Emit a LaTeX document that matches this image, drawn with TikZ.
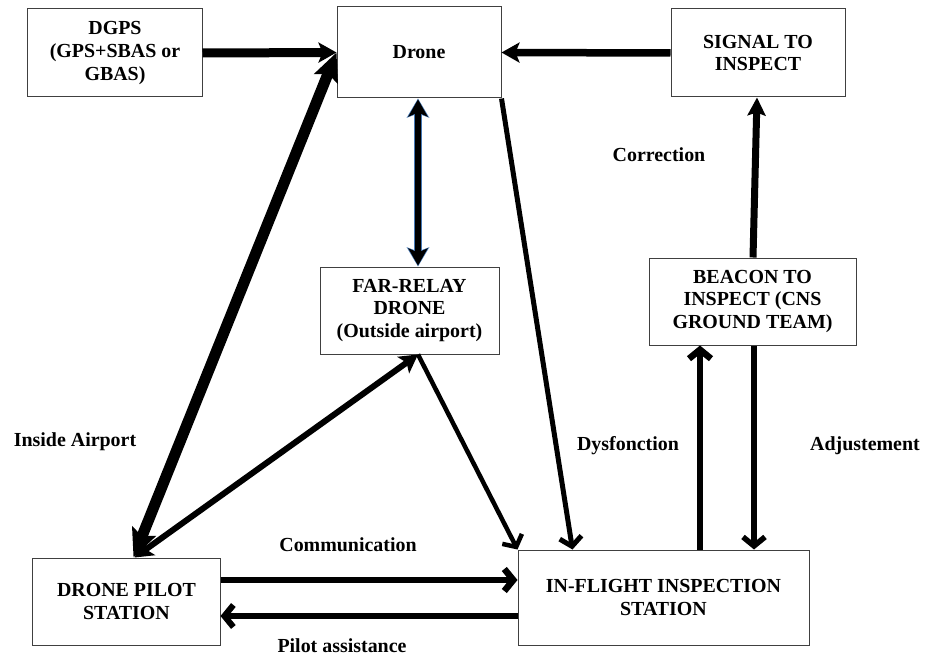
\documentclass[tikz,border=0pt]{standalone}
\usepackage{fontspec}
\setmainfont{Liberation Serif}
\usetikzlibrary{arrows.meta,calc}
\begin{document}
\begin{tikzpicture}[x=1bp,y=-1bp,
  box/.style={draw=black!75,line width=1bp,rectangle,align=center,inner sep=0pt,
    font=\fontsize{20pt}{23pt}\selectfont\bfseries},
  lbl/.style={font=\fontsize{20pt}{23pt}\selectfont\bfseries,inner sep=0pt},
  stl/.style={-{Stealth[length=18bp,width=20bp,inset=4bp]}},
  bigstl/.style={{Stealth[length=28bp,width=25bp,inset=5bp]}-{Stealth[length=28bp,width=25bp,inset=5bp]}},
  chev/.style={-{Straight Barb[length=9bp,width=22bp]}},
  chevr/.style={{Straight Barb[length=9bp,width=22bp]}-},
  dblstl/.style={{Stealth[length=18bp,width=20bp,inset=4bp]}-{Stealth[length=18bp,width=20bp,inset=4bp]}}
]
\useasboundingbox (0,0) rectangle (928,658);
\fill[white] (0,0) rectangle (928,658);

\node[box,minimum width=174bp,minimum height=88bp] (dgps) at (115,53) {DGPS\\(GPS+SBAS or\\GBAS)};
\node[box,minimum width=164bp,minimum height=91bp] (drone) at (419,52.5) {Drone};
\node[box,minimum width=174bp,minimum height=88bp] (signal) at (758,53) {SIGNAL TO\\INSPECT};
\node[box,minimum width=179bp,minimum height=87bp] (relay) at (409.5,310.5) {FAR-RELAY\\DRONE\\(Outside airport)};
\node[box,minimum width=207bp,minimum height=87bp] (beacon) at (752.5,301.5) {BEACON TO\\INSPECT (CNS\\GROUND TEAM)};
\node[box,minimum width=187bp,minimum height=87bp] (pilot) at (126.5,601.5) {DRONE PILOT\\STATION};
\node[box,minimum width=291bp,minimum height=95bp] (inflight) at (663.5,597.5) {IN-FLIGHT INSPECTION\\STATION};

% DGPS -> Drone
\draw[stl,line width=9bp] (dgps.east) -- (drone.west);
% Signal -> Drone
\draw[stl,line width=7.5bp] (signal.west) -- (drone.east);
% Drone <-> Far relay (with bluish edge)
\draw[{Stealth[length=19bp,width=22bp,inset=4bp]}-{Stealth[length=19bp,width=22bp,inset=4bp]},
      line width=8bp,color={rgb,255:red,70;green,120;blue,180}]
  (drone.south -| 418,0) -- (relay.north -| 418,0);
\draw[{Stealth[length=17bp,width=19bp,inset=4bp]}-{Stealth[length=17bp,width=19bp,inset=4bp]},
      line width=6bp] ($(drone.south -| 418,0)+(0,1)$) -- ($(relay.north -| 418,0)+(0,-1)$);
% Pilot <-> Drone
\draw[bigstl,line width=11bp] ([xshift=7bp]pilot.north) -- (drone.west);
% Pilot <-> Far relay
\draw[dblstl,line width=6bp] ([xshift=8bp]pilot.north) -- ([xshift=8.5bp]relay.south);
% Far relay -> In-flight
\draw[chev,line width=4.5bp] ([xshift=8.5bp]relay.south) -- (inflight.north west);
% Drone -> In-flight
\draw[chev,line width=5bp] (drone.south east) -- ([xshift=55bp]inflight.north west);
% In-flight -> Beacon
\draw[chev,line width=6.5bp] (inflight.north -| 700,0) -- (beacon.south -| 700,0);
% Beacon -> In-flight
\draw[chev,line width=5.5bp] (beacon.south -| 754,0) -- (inflight.north -| 754,0);
% Beacon -> Signal
\draw[-{Stealth[length=18bp,width=18bp,inset=3bp]},line width=7bp] (beacon.north -| 753,0) -- (signal.south -| 757,0);
% Communication
\draw[chev,line width=6.5bp] (pilot.east |- 0,580) -- (inflight.west |- 0,580);
% Pilot assistance
\draw[chev,line width=6bp] (inflight.west |- 0,616) -- (pilot.east |- 0,616);

% Labels
\node[lbl] (lcorr) at (659,155) {Correction};
\node[lbl] (linside) at (75,442) {Inside Airport};
\node[lbl] (ldys) at (628,446) {Dysfonction};
\node[lbl] (ladj) at (865,446) {Adjustement};
\node[lbl] (lcomm) at (348,545) {Communication};
\node[lbl] (lpilot) at (342,646) {Pilot assistance};
\end{tikzpicture}
\end{document}
